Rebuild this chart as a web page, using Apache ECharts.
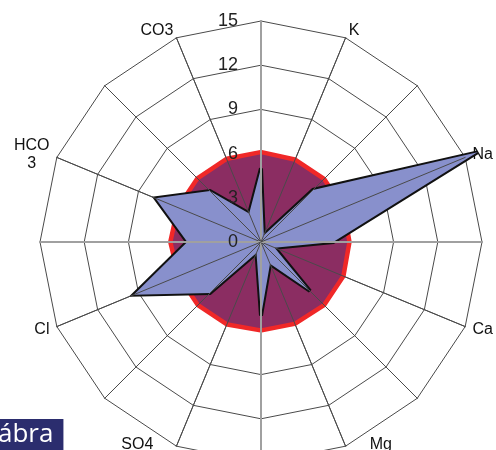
<!DOCTYPE html>
<html>
<head>
<meta charset="utf-8">
<script src="https://cdn.jsdelivr.net/npm/echarts@6/dist/echarts.min.js"></script>
<style>html,body{margin:0;padding:0;background:#fff}#c{width:496px;height:450px}</style>
</head>
<body>
<div id="c"></div>
<script>
// Spokes listed clockwise from the top (0°, 22.5°, 45°, ...)
const names = ['', 'K', '', 'Na', '', 'Ca', '', 'Mg', '', 'SO4', '', 'Cl', '', 'HCO3', '', 'CO3'];
const sampleValues = [5.0, 0.5, 5.0, 15.9, 4.9, 1.0, 4.7, 1.6, 5.0, 0.8, 4.9, 9.35, 5.0, 7.75, 4.9, 2.1];
const referenceValues = [5.95, 5.9, 5.9, 5.9, 5.85, 5.9, 5.9, 5.85, 5.85, 5.9, 5.9, 5.9, 6.0, 5.95, 5.95, 5.95];
const axisMax = 15;
const splitCount = 5;

// ECharts lays indicators out counter-clockwise: reorder
const order = names.map((_, i) => (names.length - i) % names.length);
const ccw = arr => order.map(i => arr[i]);

function indicators(withLabel) {
  return order.map((i, k) => {
    const major = i % 4 === 0;
    const ind = {
      name: names[i], max: axisMax, min: 0,
      axisLine: { lineStyle: major ? { color: '#a0a0a0', width: 2 } : { color: '#4a4a4a', width: 1 } }
    };
    if (withLabel && k === 0) ind.axisLabel = { show: true };
    return ind;
  });
}

const nameText = {
  'HCO3': '{c|HCO}\n{c|3}',
  'Mg': '{mg|Mg}',
  'SO4': '{so|SO4}'
};

const chart = echarts.init(document.getElementById('c'));
chart.setOption({
  animation: false,
  title: {
    text: 'ábra', left: -4, top: 419,
    backgroundColor: '#2b2d6e',
    padding: [3, 10, 10, 2],
    textStyle: { color: '#fff', fontSize: 26, fontWeight: 'normal', fontFamily: 'Open Sans' }
  },
  radar: [
    {
      center: [261, 242], radius: 221, startAngle: 90, shape: 'polygon',
      splitNumber: splitCount,
      indicator: indicators(false),
      axisName: {
        color: '#111', fontSize: 16, fontFamily: 'Liberation Sans',
        formatter: n => nameText[n] || n,
        rich: {
          c: { align: 'center', fontSize: 16, fontFamily: 'Liberation Sans', color: '#111', lineHeight: 18 },
          mg: { fontSize: 16, fontFamily: 'Liberation Sans', color: '#111', padding: [0, 0, 18, 21] },
          so: { fontSize: 16, fontFamily: 'Liberation Sans', color: '#111', padding: [0, 20, 18, 0] }
        }
      },
      nameGap: 8,
      splitLine: { lineStyle: { color: '#4a4a4a', width: 1 } },
      splitArea: { show: false },
      axisLabel: { show: false },
      axisTick: { show: false }
    },
    {
      z: 10,
      center: [261, 242], radius: 221, startAngle: 90, shape: 'polygon',
      splitNumber: splitCount,
      indicator: indicators(true),
      axisName: { show: false },
      splitLine: { show: false },
      splitArea: { show: false },
      axisTick: { show: false },
      axisLabel: { show: false, color: '#222', fontSize: 18, fontFamily: 'Liberation Sans', margin: 23 }
    }
  ],
  series: [
    {
      type: 'radar', radarIndex: 0, symbol: 'none', z: 2,
      lineStyle: { color: '#f02828', width: 9 },
      areaStyle: { color: '#8b2d62', opacity: 1 },
      data: [{ value: ccw(referenceValues) }]
    },
    {
      type: 'radar', radarIndex: 0, symbol: 'none', z: 3,
      lineStyle: { color: '#111', width: 4, join: 'miter', miterLimit: 4 },
      areaStyle: { color: '#8890cc', opacity: 1 },
      data: [{ value: ccw(sampleValues) }]
    }
  ]
});
</script>
</body>
</html>
